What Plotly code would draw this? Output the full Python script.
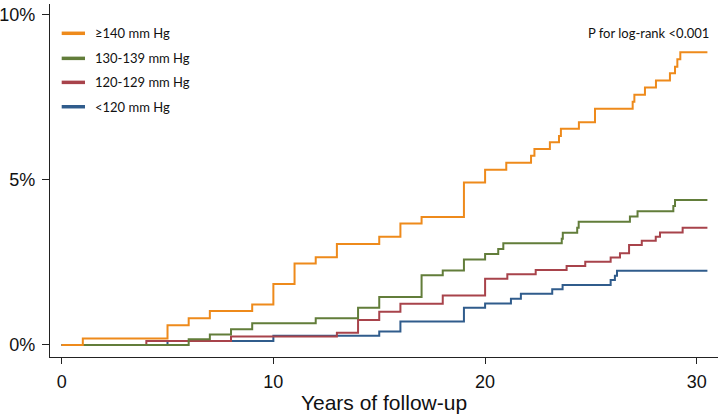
import plotly.graph_objects as go

# ---- data (cumulative incidence, %) ----
series_names = ["≥140 mm Hg", "130-139 mm Hg", "120-129 mm Hg", "<120 mm Hg"]
series_colors = ["#EE8A1B", "#627D3A", "#A8434B", "#305C8C"]

t_140 = [0, 1, 5, 6, 7, 9, 10, 11, 12, 13, 15, 16, 17, 19, 20, 21, 22.17, 22.33, 23.06, 23.49,
         23.58, 24.43, 25.19, 26.97, 27.05, 27.55, 28.07, 28.73, 28.97, 29.08, 29.22, 30.5]
y_140 = [0, 0.2, 0.6, 0.81, 1.03, 1.23, 1.85, 2.47, 2.66, 3.06, 3.28, 3.68, 3.88, 4.92, 5.31, 5.52,
         5.73, 5.94, 6.14, 6.33, 6.55, 6.75, 7.16, 7.37, 7.58, 7.8, 8.01, 8.23, 8.43, 8.66, 8.87, 8.87]

t_130 = [0, 6, 7, 8, 9, 12, 14, 15, 17, 18, 19, 20, 20.62, 20.86, 23.62, 23.67, 24.35, 24.42,
         26.84, 27.2, 28.89, 28.97, 30.5]
y_130 = [0, 0.17, 0.32, 0.48, 0.66, 0.81, 1.13, 1.45, 2.11, 2.26, 2.59, 2.76, 2.91, 3.08, 3.22,
         3.40, 3.55, 3.73, 3.89, 4.05, 4.21, 4.39, 4.39]

t_120 = [0, 4, 8, 13, 14, 15, 16, 18, 20, 21.05, 22.39, 23.85, 24.73, 25.93, 26.37, 26.8, 27.4,
         28.06, 28.26, 29.33, 30.5]
y_120 = [0, 0.12, 0.26, 0.37, 0.76, 1.01, 1.25, 1.5, 2.01, 2.14, 2.27, 2.39, 2.52, 2.65, 2.78,
         3.03, 3.16, 3.28, 3.41, 3.55, 3.55]

t_lt120 = [0, 5, 10, 15, 16, 19, 20, 21.22, 21.69, 23.17, 23.66, 25.93, 26.13, 26.23, 30.5]
y_lt120 = [0, 0.12, 0.28, 0.41, 0.71, 1.13, 1.26, 1.40, 1.55, 1.69, 1.82, 1.97, 2.10, 2.25, 2.25]

x_ticks = [0, 10, 20, 30]
y_ticks = [0, 5, 10]
y_tick_labels = ["0%", "5%", "10%"]
x_title = "Years of follow-up"
p_text = "P for log-rank <0.001"

all_t = [t_140, t_130, t_120, t_lt120]
all_y = [y_140, y_130, y_120, y_lt120]

fig = go.Figure()
# draw lowest first so orange is on top
for i in [3, 2, 1, 0]:
    fig.add_trace(go.Scatter(x=all_t[i], y=all_y[i], mode="lines", line_shape="hv",
                             line=dict(color=series_colors[i], width=2),
                             name=series_names[i], showlegend=False))

# custom legend
legend_y = [0.917, 0.846, 0.778, 0.709]
for i, name in enumerate(series_names):
    fig.add_shape(type="line", xref="paper", yref="paper",
                  x0=0.0175, x1=0.0524, y0=legend_y[i], y1=legend_y[i],
                  line=dict(color=series_colors[i], width=3.5))
    fig.add_annotation(xref="paper", yref="paper", x=0.0639, y=legend_y[i],
                       text=name, showarrow=False, xanchor="left", yanchor="middle",
                       font=dict(family="Lato, Open Sans, sans-serif", size=13, color="#111"))

fig.add_annotation(xref="paper", yref="paper", x=0.989, y=0.917, text=p_text,
                   showarrow=False, xanchor="right", yanchor="middle",
                   font=dict(family="Lato, Open Sans, sans-serif", size=13, color="#111"))

fig.update_layout(
    width=724, height=414,
    margin=dict(l=50, r=6, t=4, b=57),
    paper_bgcolor="white", plot_bgcolor="white",
    font=dict(family="Liberation Sans, Arial, sans-serif", color="#111"),
)
fig.update_xaxes(range=[-0.55, 31.0], tickvals=x_ticks, ticks="outside", ticklen=6,
                 tickwidth=1.2, tickcolor="#222", showline=True, linecolor="#222", linewidth=1.2,
                 showgrid=False, zeroline=False, tickfont=dict(size=18), automargin=False,
                 title=dict(text=x_title, font=dict(size=21), standoff=5),
                 ticklabelstandoff=2, ticklabeloverflow="allow")
fig.update_yaxes(range=[-0.364, 10.33], tickvals=y_ticks, ticktext=y_tick_labels,
                 ticks="outside", automargin=False,
                 ticklen=7, tickwidth=1.2, tickcolor="#222", showline=True, linecolor="#222",
                 linewidth=1.2, showgrid=False, zeroline=False, tickfont=dict(size=18),
                 ticklabelstandoff=3, ticklabeloverflow="allow")

# remove the default 8px page margin so the figure fills the window exactly
fig.write_html("out.html", config={"displayModeBar": False},
               post_script="document.body.style.margin='0';document.body.style.overflow='hidden';")
